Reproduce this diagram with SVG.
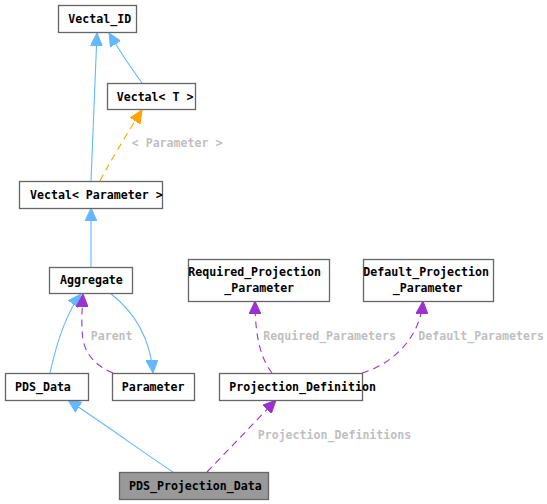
<svg xmlns="http://www.w3.org/2000/svg" width="547" height="504" viewBox="0 0 547 504">
<style>
.box{fill:#ffffff;stroke:#666666;stroke-width:1.3}
.main{fill:#999999;stroke:#666666;stroke-width:1.3}
.t{font-family:"DejaVu Sans Mono","Liberation Mono",monospace;font-size:11.6px;font-weight:bold;fill:#000000}
.lbl{font-family:"DejaVu Sans Mono","Liberation Mono",monospace;font-size:11.6px;font-weight:bold;fill:#bfbfbf}
.inh{fill:none;stroke:#63b8ff;stroke-width:1.1}
.use{fill:none;stroke:#9a32cd;stroke-width:1.1;stroke-dasharray:7,5}
.tpl{fill:none;stroke:#ffa500;stroke-width:1.1;stroke-dasharray:7,5}
</style>
<defs>
<marker id="aBlue" markerUnits="userSpaceOnUse" markerWidth="14" markerHeight="12" viewBox="0 0 14 12" refX="13" refY="6" orient="auto"><path d="M0,0 L13,6 L0,12 Z" fill="#63b8ff" stroke="#63b8ff"/></marker>
<marker id="aPurple" markerUnits="userSpaceOnUse" markerWidth="14" markerHeight="12" viewBox="0 0 14 12" refX="13" refY="6" orient="auto"><path d="M0,0 L13,6 L0,12 Z" fill="#9a32cd" stroke="#9a32cd"/></marker>
<marker id="aOrange" markerUnits="userSpaceOnUse" markerWidth="14" markerHeight="12" viewBox="0 0 14 12" refX="13" refY="6" orient="auto"><path d="M0,0 L13,6 L0,12 Z" fill="#ffa500" stroke="#ffa500"/></marker>
</defs>
<g id="connectors">
<path class="inh" d="M91,181 L97,33" marker-end="url(#aBlue)"/>
<path class="inh" d="M142,83 C134,72 122,55 109,33" marker-end="url(#aBlue)"/>
<path class="tpl" d="M100,181 C108,165 128,132 142,110" marker-end="url(#aOrange)"/>
<text class="lbl" x="131.7" y="147">&lt; Parameter &gt;</text>
<path class="inh" d="M91,267 L91,208" marker-end="url(#aBlue)"/>
<path class="inh" d="M50,373 C55,350 64,316 81,294" marker-end="url(#aBlue)"/>
<path class="use" d="M113,373 C96,366 86,355 83,340 C81,325 82,310 83,294" marker-end="url(#aPurple)"/>
<text class="lbl" x="90.7" y="340">Parent</text>
<path class="inh" d="M110,293 C132,310 150,335 153,373" marker-end="url(#aBlue)"/>
<path class="inh" d="M173,472 C150,457 110,428 68,400" marker-end="url(#aBlue)"/>
<path class="use" d="M207,472 L276,400" marker-end="url(#aPurple)"/>
<text class="lbl" x="257.7" y="438.5">Projection_Definitions</text>
<path class="use" d="M272,373 C262,360 255,340 255,301" marker-end="url(#aPurple)"/>
<text class="lbl" x="263.3" y="340">Required_Parameters</text>
<path class="use" d="M362,373 C390,365 420,340 423,301" marker-end="url(#aPurple)"/>
<text class="lbl" x="418.3" y="340">Default_Parameters</text>
</g>
<g id="node_Vectal_ID"><rect class="box" x="58.5" y="5.5" width="78" height="27"/><text class="t" x="68.3" y="23">Vectal_ID</text></g>
<g id="node_Vectal_T"><rect class="box" x="107.5" y="83.5" width="88" height="26"/><text class="t" x="116.7" y="100.5">Vectal&lt; T &gt;</text></g>
<g id="node_Vectal_Parameter"><rect class="box" x="19.5" y="181.5" width="143" height="27"/><text class="t" x="30" y="199">Vectal&lt; Parameter &gt;</text></g>
<g id="node_Aggregate"><rect class="box" x="49.5" y="267.5" width="83" height="26"/><text class="t" x="60" y="284">Aggregate</text></g>
<g id="node_PDS_Data"><rect class="box" x="5.5" y="373.5" width="83" height="27"/><text class="t" x="15" y="390.5">PDS_Data</text></g>
<g id="node_Parameter"><rect class="box" x="112.5" y="373.5" width="82" height="27"/><text class="t" x="121.7" y="390.5">Parameter</text></g>
<g id="node_Projection_Definition"><rect class="box" x="219.5" y="373.5" width="143" height="27"/><text class="t" x="229.3" y="390.5">Projection_Definition</text></g>
<g id="node_Required_Projection_Parameter"><rect class="box" x="188.5" y="259.5" width="141" height="42"/><text class="t" x="188.3" y="276">Required_Projection</text><text class="t" x="224.3" y="292">_Parameter</text></g>
<g id="node_Default_Projection_Parameter"><rect class="box" x="363.5" y="259.5" width="130" height="42"/><text class="t" x="363.3" y="276">Default_Projection</text><text class="t" x="392.7" y="292">_Parameter</text></g>
<g id="node_PDS_Projection_Data"><rect class="main" x="119.5" y="472.5" width="149" height="27"/><text class="t" x="129" y="489.5">PDS_Projection_Data</text></g>
</svg>
